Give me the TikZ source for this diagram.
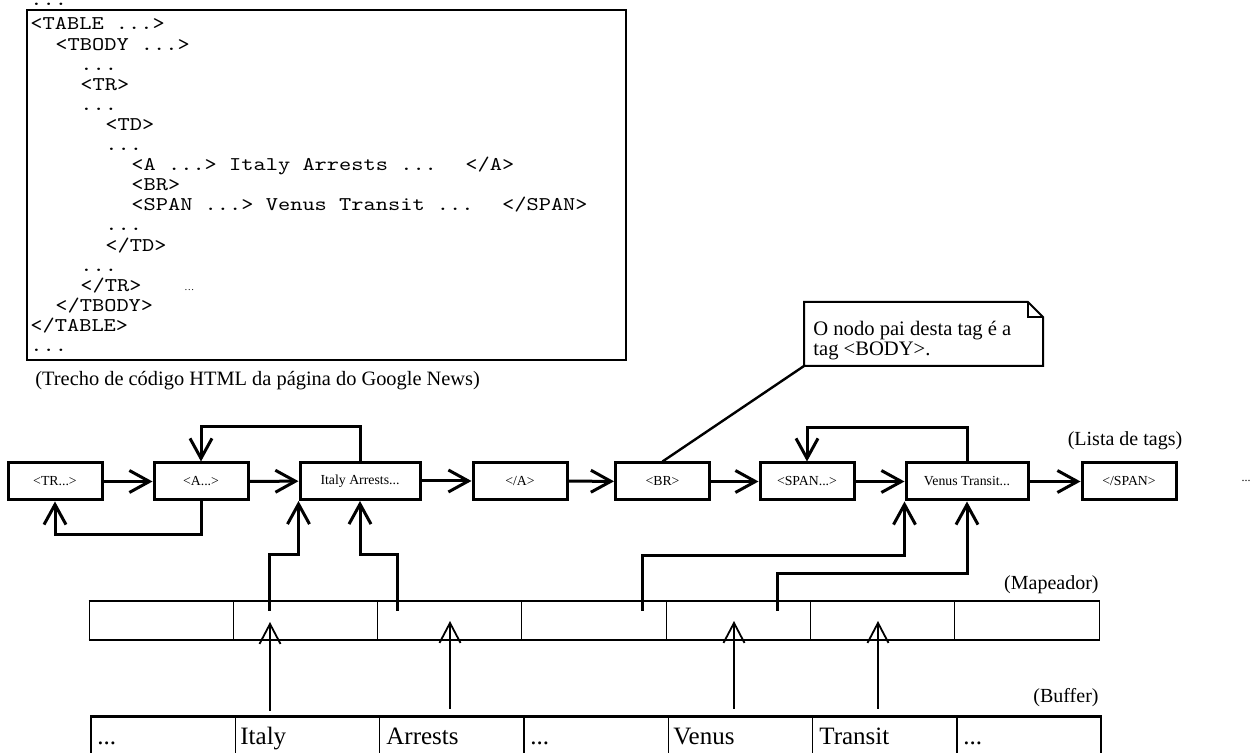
\documentclass[tikz,border=0pt]{standalone}
\usepackage{fontspec}
\setmainfont{Liberation Serif}
\newfontfamily\codefont{Latin Modern Mono}[FakeStretch=1.2]
\usetikzlibrary{arrows.meta}

\begin{document}
\begin{tikzpicture}[x=0.5pt, y=-0.5pt,
    tag/.style={draw, line width=1.5pt, minimum width=47pt, minimum height=18.5pt,
      inner sep=0pt, font=\fontsize{6.9}{7}\selectfont},
    link/.style={line width=1.5pt, -{Straight Barb[length=10pt,width=11pt]}},
    feed/.style={line width=0.9pt, -{Straight Barb[length=10pt,width=10.5pt]}},
    cell/.style={draw, line width=0.5pt, minimum width=72.15pt, minimum height=19pt, inner sep=0pt},
    bcell/.style={draw, line width=0.7pt, minimum width=72.15pt, minimum height=26.5pt, inner sep=0pt},
    code/.style={anchor=base west, inner sep=0pt, font=\codefont\fontsize{9.7}{10}\selectfont},
    word/.style={anchor=base west, inner sep=0pt, font=\fontsize{12.5}{13}\selectfont},
    remark/.style={inner sep=0pt, font=\fontsize{10}{10}\selectfont}]
  \useasboundingbox (0,0) rectangle (1255,753);

  % HTML fragment
  \draw[line width=1pt] (27,10) rectangle (626,360);
  \node[code] (l0) at (30,6) {...};
  \node[code] (l1) at (30,30) {<TABLE ...>};
  \node[code] (l2) at (55,50.1) {<TBODY ...>};
  \node[code] (l3) at (80,70.2) {...};
  \node[code] (l4) at (80,90.3) {<TR>};
  \node[code] (l5) at (80,110.4) {...};
  \node[code] (l6) at (105,130.5) {<TD>};
  \node[code] (l7) at (105,150.6) {...};
  \node[code] (l8) at (131,170.7) {<A ...> Italy Arrests ...~ </A>};
  \node[code] (l9) at (131,190.8) {<BR>};
  \node[code] (l10) at (131,210.9) {<SPAN ...> Venus Transit ...~ </SPAN>};
  \node[code] (l11) at (105,231) {...};
  \node[code] (l12) at (105,251.1) {</TD>};
  \node[code] (l13) at (80,271.2) {...};
  \node[code] (l14) at (80,291.3) {</TR>};
  \node[font=\fontsize{5}{5}\selectfont, anchor=base west, inner sep=0pt] (trdots) at (184,291) {…};
  \node[code] (l15) at (55,311.4) {</TBODY>};
  \node[code] (l16) at (30,331.5) {</TABLE>};
  \node[code] (l17) at (30,351.6) {...};
  \node[remark, anchor=base west, font=\fontsize{10.2}{10}\selectfont] (caption) at (35,386) {(Trecho de código HTML da página do Google News)};

  % list of tags
  \node[tag] (tr) at (55,481.5) {<TR...>};
  \node[tag] (a) at (201,481.5) {<A...>};
  \node[tag, minimum width=60pt] (italy) at (360,481) {Italy Arrests...};
  \node[tag] (ca) at (520,481) {</A>};
  \node[tag] (br) at (662.5,481.5) {<BR>};
  \node[tag] (span) at (807,481.5) {<SPAN...>};
  \node[tag, minimum width=61pt] (venus) at (967,481.5) {Venus Transit...};
  \node[tag] (cspan) at (1129,481.5) {</SPAN>};
  \node[font=\fontsize{6}{6}\selectfont, inner sep=0pt] (more) at (1246,481) {...};
  \node[remark, anchor=base] (listlabel) at (1125,446) {(Lista de tags)};

  \draw[link] (tr) -- (a);
  \draw[link] (a) -- (italy);
  \draw[link] (italy) -- (ca);
  \draw[link] (ca) -- (br);
  \draw[link] (br) -- (span);
  \draw[link] (span) -- (venus);
  \draw[link] (venus) -- (cspan);
  \draw[link] (italy.north) -- ++(0,-34) -| (a.north);
  \draw[link] (a.south) -- ++(0,33) -| (tr.south);
  \draw[link] (venus.north) -- ++(0,-34) -| (span.north);

  % note on <BR>
  \draw[line width=1pt] (804,302) -- (1028,302) -- (1043,317) -- (1043,366) -- (804,366) -- cycle;
  \draw[line width=0.6pt] (1028,302) -- (1028,317) -- (1043,317);
  \node[remark, anchor=north west, align=left, font=\fontsize{10.3}{10}\selectfont] (note) at (813,321) {O nodo pai desta tag é a\\tag <BODY>.};
  \coordinate (notecorner) at (804,366);
  \draw[line width=1.2pt] (br.north) -- (notecorner);

  % mapper
  \foreach \i in {1,...,7}
    \node[cell] (m\i) at (16.85+144.3*\i,621) {};
  \draw[line width=1pt] (m1.north west) -- (m7.north east) (m1.south west) -- (m7.south east);
  \node[remark, anchor=base east] (maplabel) at (1099,590) {(Mapeador)};

  \coordinate (s1) at (269,611);
  \coordinate (s2) at (397,611);
  \coordinate (s3) at (642,611);
  \coordinate (s4) at (777,611);
  \draw[link] (s1) -- ++(0,-56) -| (italy.south west);
  \draw[link] (s2) -- ++(0,-56) -| (italy.south);
  \draw[link] (s3) -- ++(0,-55) -| (venus.south west);
  \draw[link] (s4) -- ++(0,-37) -| (venus.south);

  % buffer
  \foreach \i in {1,...,7}
    \node[bcell] (b\i) at (18.85+144.3*\i,743.5) {};
  \draw[line width=1.5pt] (b1.north west) -- (b7.north east);
  \node[word] (w1) at (97,745) {...};
  \node[word] (w2) at (240,745) {Italy};
  \node[word] (w3) at (386,745) {Arrests};
  \node[word] (w4) at (530,745) {...};
  \node[word] (w5) at (673,745) {Venus};
  \node[word] (w6) at (819,745) {Transit};
  \node[word] (w7) at (963,745) {...};
  \node[remark, anchor=base east] (buflabel) at (1099,703) {(Buffer)};

  \coordinate (f1) at (270,711);
  \coordinate (f2) at (450,709);
  \coordinate (f3) at (734,709);
  \coordinate (f4) at (878,709);
  \draw[feed] (f1) -- ++(0,-89);
  \draw[feed] (f2) -- ++(0,-88);
  \draw[feed] (f3) -- ++(0,-88);
  \draw[feed] (f4) -- ++(0,-88);
\end{tikzpicture}
\end{document}
